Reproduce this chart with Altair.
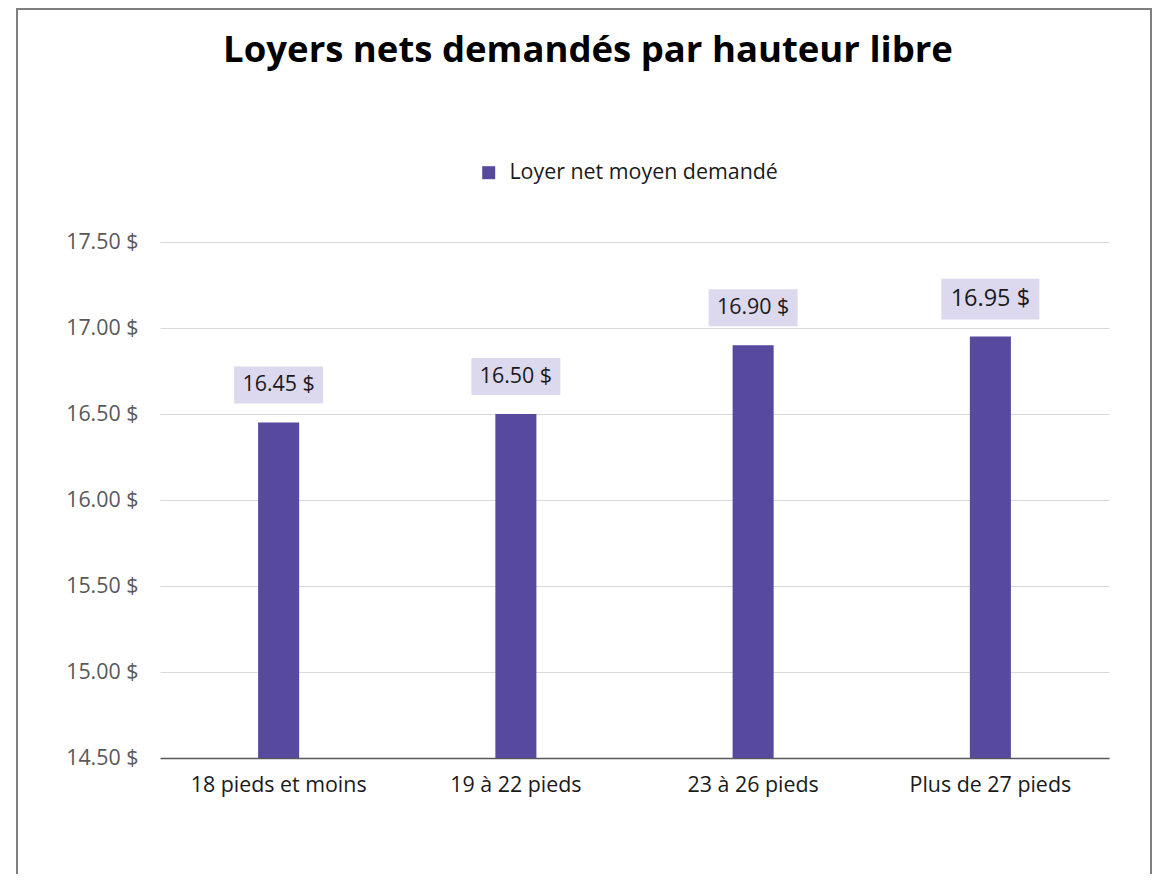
import altair as alt
import pandas as pd

title_text = "Loyers nets demandés par hauteur libre"
categories = ["18 pieds et moins", "19 à 22 pieds", "23 à 26 pieds", "Plus de 27 pieds"]
values = [16.45, 16.50, 16.90, 16.95]
series_name = "Loyer net moyen demandé"
y_ticks = [14.5, 15.0, 15.5, 16.0, 16.5, 17.0, 17.5]

df = pd.DataFrame({"cat": categories, "val": values, "series": [series_name] * len(categories)})

FONT = "Open Sans"
PURPLE = "#574A9E"
LAV = "#DCD8EE"
FS = 21.4

base = alt.Chart(df).transform_calculate(
    base="14.5", label="format(datum.val, '.2f') + ' $'"
)

x_enc = alt.X("cat:N", sort=categories, title=None,
              scale=alt.Scale(paddingInner=0.827, paddingOuter=0.4135),
              axis=alt.Axis(labelAngle=0, labelFontSize=FS, labelColor="#1a1a1a", labelFont=FONT,
                            labelPadding=16, ticks=False, domainColor="#595959", domainWidth=1.5))
y_enc = alt.Y("val:Q", title=None,
              scale=alt.Scale(domain=[14.5, 17.5], zero=False, nice=False),
              axis=alt.Axis(values=y_ticks, labelExpr="format(datum.value, '.2f') + ' $'",
                            labelFontSize=FS, labelColor="#595959", labelFont=FONT, labelPadding=22,
                            ticks=False, domain=False, gridColor="#d9d9d9", gridWidth=1))

bars = base.mark_bar(color=PURPLE).encode(
    x=x_enc,
    y=y_enc,
    y2="base:Q",
    color=alt.Color("series:N", title=None,
                    scale=alt.Scale(range=[PURPLE]),
                    legend=alt.Legend(orient="none", legendX=318, legendY=-80, symbolType="square",
                                      symbolSize=169, labelFontSize=FS, labelFont=FONT,
                                      labelColor="#1a1a1a", labelLimit=400, symbolStrokeWidth=0,
                                      labelOffset=10)),
)

boxes = base.mark_point(
    shape="M-1,-0.416L1,-0.416L1,0.416L-1,0.416Z", filled=True, opacity=1,
    color=LAV, strokeWidth=0, yOffset=-37.5
).encode(
    x=alt.X("cat:N", sort=categories),
    y="val:Q",
    size=alt.condition(alt.datum.cat == categories[-1], alt.value(9604), alt.value(7921)),
)

labels = base.mark_text(font=FONT, color="#1a1a1a", baseline="middle", yOffset=-37.5).encode(
    x=alt.X("cat:N", sort=categories),
    y="val:Q",
    text="label:N",
    size=alt.condition(alt.datum.cat == categories[-1], alt.value(23.5), alt.value(FS)),
)

border = alt.Chart(df).mark_rect(fill=None, stroke="#7f7f7f", strokeWidth=1.5).encode(
    x=alt.value(-143), x2=alt.value(991), y=alt.value(-233), y2=alt.value(700)
)

title = alt.Chart(pd.DataFrame({"t": [title_text]})).mark_text(
    font=FONT, fontSize=36.5, fontWeight="bold", color="#000000", align="center", baseline="alphabetic"
).encode(text="t:N", x=alt.value(428), y=alt.value(-180))

chart = alt.layer(border, bars, boxes, labels, title).properties(
    width=949, height=516,
    autosize=alt.AutoSizeParams(type="none"),
    padding={"left": 152, "top": 234, "right": 43, "bottom": 116},
).configure_view(stroke=None).configure_axis(gridColor="#d9d9d9")

chart.save("out.html", embed_options={"renderer": "svg", "actions": False})
